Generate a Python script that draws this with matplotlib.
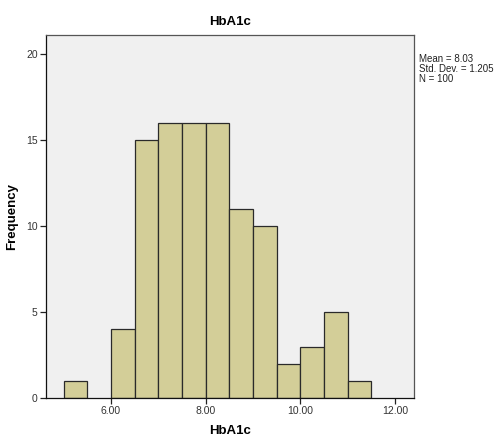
"""
HbA1c 直方图 (SPSS 风格)
"""

import numpy as np
import matplotlib
matplotlib.use('Agg')
import matplotlib.pyplot as plt

plt.rcParams['font.family'] = ['Liberation Sans', 'DejaVu Sans']

# 组边界和频数
bin_edges = [5.0, 5.5, 6.0, 6.5, 7.0, 7.5, 8.0, 8.5, 9.0, 9.5, 10.0, 10.5, 11.0, 11.5]
counts = [1, 0, 4, 15, 16, 16, 16, 11, 10, 2, 3, 5, 1]
x_ticks = [6.0, 8.0, 10.0, 12.0]
y_ticks = [0, 5, 10, 15, 20]
stats_text = "Mean = 8.03\nStd. Dev. = 1.205\nN = 100"


def main():
    fig = plt.figure(figsize=(4.95, 4.38), dpi=100)
    ax = fig.add_axes([0.093, 0.091, 0.743, 0.829])
    ax.set_facecolor('#f0f0f0')

    edges = np.array(bin_edges)
    widths = np.diff(edges)
    for left, w, c in zip(edges[:-1], widths, counts):
        if c > 0:
            ax.bar(left, c, width=w, align='edge', color='#d3ce98',
                   edgecolor='#2a2a2a', linewidth=0.9)

    ax.set_xlim(4.63, 12.4)
    ax.set_ylim(0, 21.1)
    ax.set_xticks(x_ticks)
    ax.set_xticklabels([f"{t:.2f}" for t in x_ticks])
    ax.set_yticks(y_ticks)
    ax.tick_params(labelsize=7.5, length=4, width=0.9, colors='#222222',
                   labelcolor='#333333', pad=2)
    for s in ax.spines.values():
        s.set_color('#555555')
        s.set_linewidth(0.9)
    ax.spines['left'].set_color('#111111')
    ax.spines['bottom'].set_color('#111111')

    ax.set_title('HbA1c', fontsize=9.5, fontweight='bold', pad=7)
    ax.set_xlabel('HbA1c', fontsize=9.5, fontweight='bold', labelpad=6)
    ax.set_ylabel('Frequency', fontsize=9.5, fontweight='bold', labelpad=6)

    fig.text(0.846, 0.876, stats_text, fontsize=7, va='top', ha='left',
             color='#222222', linespacing=1.0)

    fig.savefig('out.png', dpi=100)


if __name__ == "__main__":
    main()
